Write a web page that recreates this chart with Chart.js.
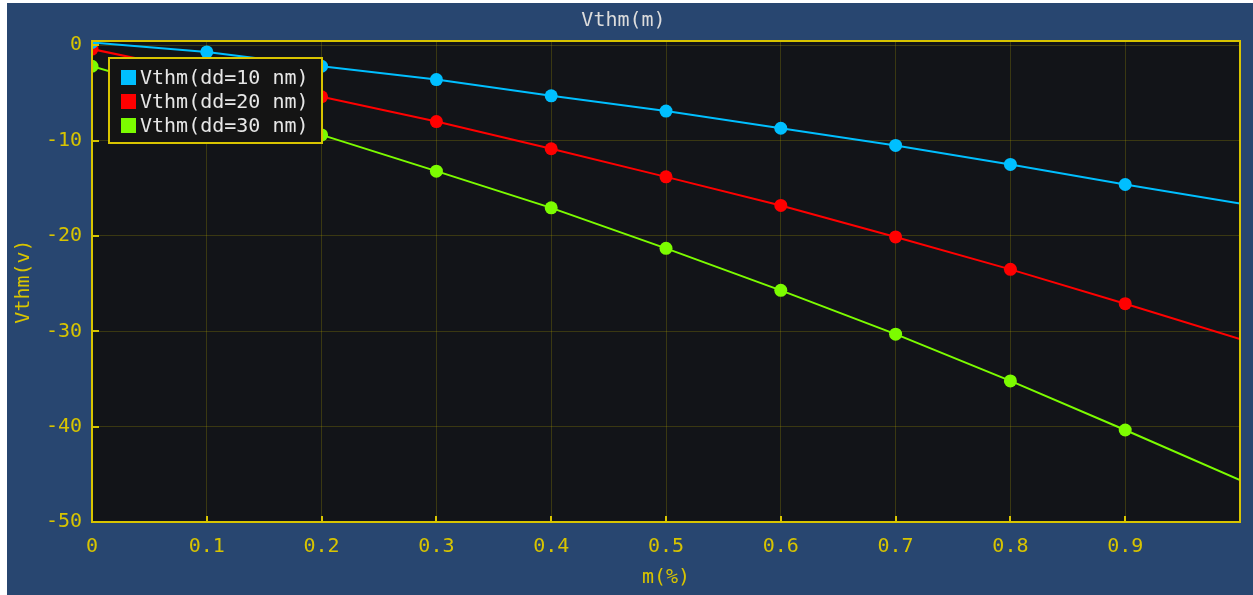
<!DOCTYPE html>
<html lang="ja">
<head>
<meta charset="UTF-8">
<title>Vthm(m)</title>
<script src="https://cdn.jsdelivr.net/npm/chart.js@4.4.1/dist/chart.umd.min.js"></script>
<style>
  html, body { margin: 0; padding: 0; background: #ffffff; }
  #wrap { position: absolute; left: 7px; top: 3px; width: 1246px; height: 592px; }
</style>
</head>
<body>
<div id="wrap"><canvas id="vthmChart" width="1246" height="592"></canvas></div>
<script>
// データ
const mValues = [0, 0.1, 0.2, 0.3, 0.4, 0.5, 0.6, 0.7, 0.8, 0.9, 1.0];
const vthmDd10 = [0.3, -0.7, -2.2, -3.6, -5.3, -6.9, -8.7, -10.5, -12.5, -14.6, -16.6];
const vthmDd20 = [-0.4, -2.9, -5.4, -8.0, -10.85, -13.8, -16.8, -20.1, -23.5, -27.1, -30.8];
const vthmDd30 = [-2.2, -5.7, -9.4, -13.2, -17.05, -21.3, -25.7, -30.3, -35.2, -40.35, -45.6];
const seriesLabels = ['Vthm(dd=10 nm)', 'Vthm(dd=20 nm)', 'Vthm(dd=30 nm)'];
const xTicks = [0, 0.1, 0.2, 0.3, 0.4, 0.5, 0.6, 0.7, 0.8, 0.9];
const xTickLabels = ['0', '0.1', '0.2', '0.3', '0.4', '0.5', '0.6', '0.7', '0.8', '0.9'];
const yTicks = [-50, -40, -30, -20, -10, 0];
const yTickLabels = ['-50', '-40', '-30', '-20', '-10', '0'];

const FONT = "'DejaVu Sans Mono', monospace";
const YELLOW = '#d8c400';
const COLORS = ['#00bfff', '#ff0000', '#7cfc00'];

function toPoints(values) {
  return values.map((v, i) => ({ x: mValues[i], y: v }));
}

// 凡例（枠付き、プロット内左上）
function drawLegend(chart) {
  const { ctx, chartArea: a } = chart;
  const left = a.left + 17;
  const top = a.top + 17;
  ctx.save();
  ctx.fillStyle = '#141414';
  ctx.fillRect(left, top, 213, 85);
  ctx.strokeStyle = YELLOW;
  ctx.lineWidth = 2;
  ctx.strokeRect(left, top, 213, 85);
  ctx.font = '20px ' + FONT;
  ctx.textBaseline = 'middle';
  ctx.textAlign = 'left';
  chart.data.datasets.forEach((ds, i) => {
    const y = top + 12 + i * 24;
    ctx.fillStyle = ds.borderColor;
    ctx.fillRect(left + 12, y, 15, 15);
    ctx.fillStyle = '#e6e6e6';
    ctx.fillText(ds.label, left + 31, y + 9);
  });
  ctx.restore();
}

const framePlugin = {
  id: 'frame',
  beforeDraw(chart) {
    const { ctx, chartArea: a } = chart;
    ctx.save();
    ctx.fillStyle = '#284670';
    ctx.fillRect(0, 0, chart.width, chart.height);
    ctx.fillStyle = '#121418';
    ctx.fillRect(a.left, a.top, a.right - a.left, a.bottom - a.top);
    ctx.restore();
  },
  afterDraw(chart) {
    const { ctx, chartArea: a, scales } = chart;
    ctx.save();
    ctx.strokeStyle = YELLOW;
    ctx.lineWidth = 2;
    ctx.strokeRect(a.left, a.top, a.right - a.left, a.bottom - a.top);
    // 内向きの目盛り線
    ctx.beginPath();
    scales.x.ticks.forEach(t => {
      const px = Math.round(scales.x.getPixelForValue(t.value));
      ctx.moveTo(px, a.bottom);
      ctx.lineTo(px, a.bottom - 6);
    });
    scales.y.ticks.forEach(t => {
      const py = Math.round(scales.y.getPixelForValue(t.value));
      ctx.moveTo(a.left, py);
      ctx.lineTo(a.left + 7, py);
    });
    ctx.stroke();
    ctx.restore();
    drawLegend(chart);
  }
};

const lastIndex = mValues.length - 1;

new Chart(document.getElementById('vthmChart'), {
  type: 'line',
  data: {
    datasets: [vthmDd10, vthmDd20, vthmDd30].map((vals, i) => ({
      label: seriesLabels[i],
      data: toPoints(vals),
      borderColor: COLORS[i],
      backgroundColor: COLORS[i],
      pointBackgroundColor: COLORS[i],
      pointBorderWidth: 0,
      pointRadius: ctx => (ctx.dataIndex === lastIndex ? 0 : 6.5),
      borderWidth: 2,
      tension: 0,
      fill: false
    }))
  },
  options: {
    responsive: false,
    animation: false,
    events: [],
    layout: { padding: { top: 0, right: 13, bottom: 0, left: 0 } },
    plugins: {
      legend: { display: false },
      tooltip: { enabled: false },
      title: {
        display: true,
        text: 'Vthm(m)',
        color: '#dcdcdc',
        font: { family: FONT, size: 20, weight: 'normal' },
        padding: { top: 6, bottom: 8 }
      }
    },
    scales: {
      x: {
        type: 'linear',
        min: 0,
        max: 1,
        afterBuildTicks: axis => { axis.ticks = xTicks.map(v => ({ value: v })); },
        afterFit: scale => { scale.height = 73; },
        grid: { color: 'rgba(190, 170, 0, 0.24)', lineWidth: 1, drawTicks: false },
        border: { display: false },
        ticks: {
          color: YELLOW,
          font: { family: FONT, size: 20 },
          padding: 13,
          maxRotation: 0,
          autoSkip: false,
          callback: (value, index) => xTickLabels[index]
        },
        title: {
          display: true,
          text: 'm(%)',
          color: YELLOW,
          font: { family: FONT, size: 20 },
          padding: { top: 0, bottom: 5 }
        }
      },
      y: {
        min: -50,
        max: 0.45,
        afterBuildTicks: axis => { axis.ticks = yTicks.map(v => ({ value: v })); },
        afterFit: scale => { scale.width = 85; },
        grid: { color: 'rgba(190, 170, 0, 0.24)', lineWidth: 1, drawTicks: false },
        border: { display: false },
        ticks: {
          color: YELLOW,
          font: { family: FONT, size: 20 },
          padding: 10,
          callback: value => yTickLabels[yTicks.indexOf(value)]
        },
        title: {
          display: true,
          text: 'Vthm(v)',
          color: YELLOW,
          font: { family: FONT, size: 20 },
          padding: { top: 5, bottom: 0 }
        }
      }
    }
  },
  plugins: [framePlugin]
});
</script>
</body>
</html>
